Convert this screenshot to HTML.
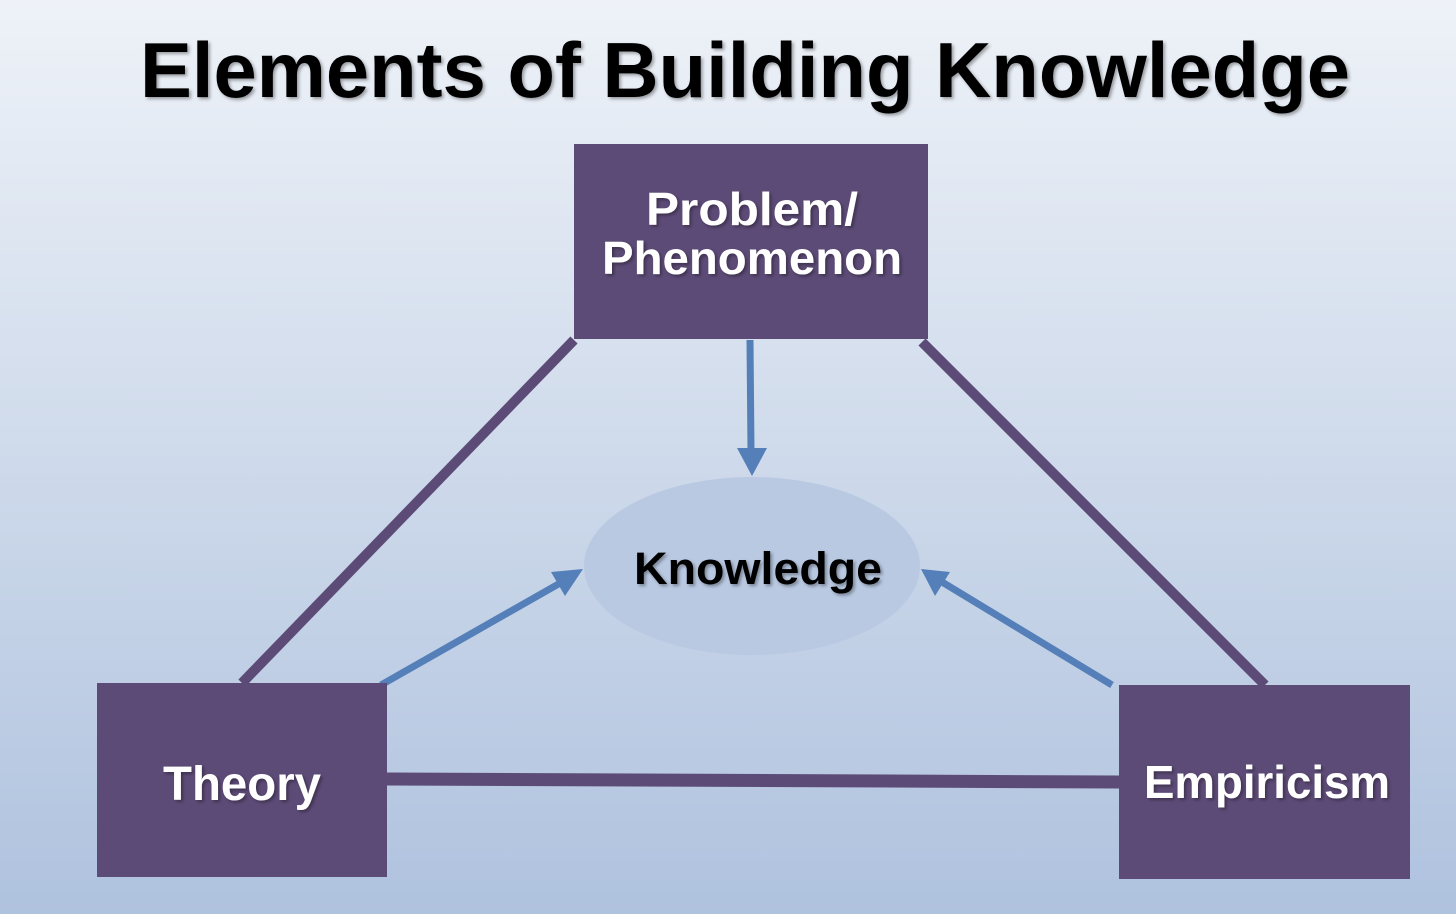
<!DOCTYPE html>
<html><head><meta charset="utf-8"><style>
html,body{margin:0;padding:0;}
body{width:1456px;height:914px;overflow:hidden;}
</style></head><body>
<svg width="1456" height="914" viewBox="0 0 1456 914" xmlns="http://www.w3.org/2000/svg">
<defs>
<linearGradient id="bg" x1="0" y1="0" x2="0" y2="1">
<stop offset="0" stop-color="#eef2f8"/>
<stop offset="1" stop-color="#afc2de"/>
</linearGradient>
<filter id="sh" x="-5%" y="-20%" width="110%" height="140%"><feDropShadow dx="2" dy="2" stdDeviation="1.5" flood-color="#000" flood-opacity="0.35"/></filter>
</defs>
<rect width="1456" height="914" fill="url(#bg)"/>
<text x="745" y="97" text-anchor="middle" font-family="Liberation Sans, sans-serif" font-weight="bold" font-size="78" fill="#000" textLength="1210" lengthAdjust="spacingAndGlyphs" filter="url(#sh)">Elements of Building Knowledge</text>
<ellipse cx="752" cy="566" rx="168" ry="89" fill="#b9c9e2"/>
<g stroke="#5d4b77" stroke-width="10">
<line x1="574" y1="340" x2="242" y2="683"/>
<line x1="922" y1="342" x2="1265" y2="685"/>
</g>
<line x1="387" y1="779" x2="1119" y2="782" stroke="#5d4b77" stroke-width="13"/>
<g stroke="#557fb8" stroke-width="7" fill="#557fb8">
<line x1="750" y1="340" x2="751" y2="452"/>
<line x1="381" y1="685" x2="562" y2="582"/>
<line x1="1112" y1="685" x2="942" y2="582"/>
</g>
<g fill="#557fb8">
<polygon points="737,448 767,448 752,476"/>
<polygon points="583,569 565,596 551,572"/>
<polygon points="921,569 935,596 950,572"/>
</g>
<rect x="574" y="144" width="354" height="195" fill="#5d4b77"/>
<rect x="97" y="683" width="290" height="194" fill="#5d4b77"/>
<rect x="1119" y="685" width="291" height="194" fill="#5d4b77"/>
<g font-family="Liberation Sans, sans-serif" font-weight="bold" fill="#fff" text-anchor="middle" filter="url(#sh)">
<text x="752" y="225" font-size="46" textLength="212" lengthAdjust="spacingAndGlyphs">Problem/</text>
<text x="752" y="274" font-size="46" textLength="300" lengthAdjust="spacingAndGlyphs">Phenomenon</text>
<text x="242" y="800" font-size="48" textLength="158" lengthAdjust="spacingAndGlyphs">Theory</text>
<text x="1267" y="798" font-size="46" textLength="246" lengthAdjust="spacingAndGlyphs">Empiricism</text>
<text x="758" y="584" font-size="45" fill="#000" textLength="248" lengthAdjust="spacingAndGlyphs">Knowledge</text>
</g>
</svg>
</body></html>
